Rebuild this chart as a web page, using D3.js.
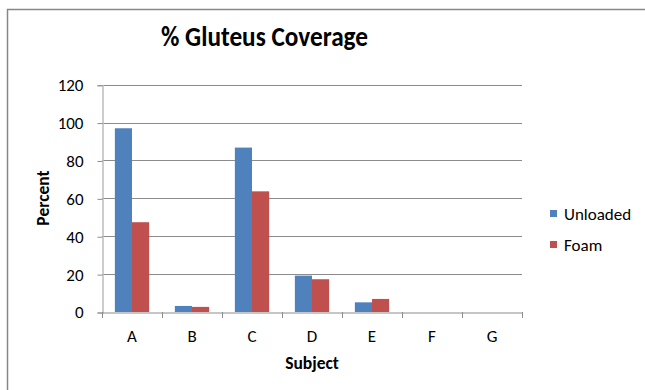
<!DOCTYPE html>
<html><head><meta charset="utf-8">
<script src="https://cdn.jsdelivr.net/npm/d3@7"></script>
<style>body{margin:0;background:#fff}svg{display:block}text{font-family:Carlito,"Open Sans",sans-serif;fill:#000}</style>
</head><body><svg id="c" width="645" height="390"></svg>
<script>
const categories = ["A","B","C","D","E","F","G"];
const seriesNames = ["Unloaded","Foam"];
const unloaded = [97,3.2,86.8,19.2,5.1,0,0];
const foam = [47.4,2.7,63.7,17.3,6.9,0,0];
const yTicks = [0,20,40,60,80,100,120];
const colors = ["#4F81BD","#C0504D"];

const svg = d3.select("#c");
svg.append("path").attr("d","M7.5,395 V9.5 H650").attr("fill","none").attr("stroke","#878787").attr("stroke-width",1.5);

const x = d3.scaleBand().domain(categories).range([102,522]).padding(0);
const y = d3.scaleLinear().domain([0,120]).range([312,84.7]);
const barW = x.bandwidth()/3.5;
const xs = d3.scaleBand().domain(seriesNames).range([barW*0.75, barW*2.75]).padding(0);

svg.append("g").selectAll("line").data(yTicks.filter(d=>d>0)).join("line")
  .attr("x1",102).attr("x2",522).attr("y1",d=>Math.round(y(d))+0.5).attr("y2",d=>Math.round(y(d))+0.5)
  .attr("stroke","#8c8c8c").attr("stroke-width",1);

const yAxis = svg.append("g").attr("transform","translate(102.5,0.5)")
  .call(d3.axisLeft(y).tickValues(yTicks).tickSize(5).tickPadding(14).tickFormat(d3.format("d")));
yAxis.select(".domain").attr("stroke","#bdbdbd").attr("stroke-width",1.5);
yAxis.selectAll(".tick line").attr("stroke","#8c8c8c");
yAxis.selectAll("text").attr("font-size","17px").attr("fill","#000").style("font-family","Carlito,'Open Sans',sans-serif");

const data = seriesNames.map((s,i)=>({name:s, values:[unloaded,foam][i], color:colors[i]}));
const g = svg.append("g");
data.forEach(s=>{
  g.selectAll(null).data(categories.map((c,j)=>({c, v:s.values[j]}))).join("rect")
    .attr("x",d=>x(d.c)+xs(s.name)).attr("width",xs.bandwidth())
    .attr("y",d=>y(d.v)).attr("height",d=>y(0)-y(d.v))
    .attr("fill",s.color);
});

const xAxis = svg.append("g").attr("transform","translate(0,312.5)")
  .call(d3.axisBottom(x).tickSize(0).tickPadding(17));
xAxis.select(".domain").attr("stroke","#8c8c8c");
xAxis.selectAll("text").attr("font-size","17px").attr("fill","#000").style("font-family","Carlito,'Open Sans',sans-serif");
svg.append("g").selectAll("line").data(categories.concat(["_end"])).join("line")
  .attr("x1",(d,i)=>Math.round(102+i*x.bandwidth())+0.5).attr("x2",(d,i)=>Math.round(102+i*x.bandwidth())+0.5)
  .attr("y1",312).attr("y2",318).attr("stroke","#8c8c8c");

svg.append("text").attr("x",264.5).attr("y",46).attr("text-anchor","middle")
  .attr("font-size","28px").attr("font-weight","bold").attr("textLength",207).attr("lengthAdjust","spacingAndGlyphs")
  .text("% Gluteus Coverage");
svg.append("text").attr("transform","translate(49,198) rotate(-90)").attr("text-anchor","middle")
  .attr("font-size","17.5px").attr("font-weight","bold").text("Percent");
svg.append("text").attr("x",312).attr("y",369).attr("text-anchor","middle")
  .attr("font-size","17.5px").attr("font-weight","bold").text("Subject");

const leg = svg.append("g");
data.forEach((s,i)=>{
  const yy = 210 + i*31;
  leg.append("rect").attr("x",550).attr("y",yy).attr("width",7).attr("height",7).attr("fill",s.color);
  leg.append("text").attr("x",564).attr("y",yy+10).attr("font-size","17px").text(s.name);
});
</script></body></html>
